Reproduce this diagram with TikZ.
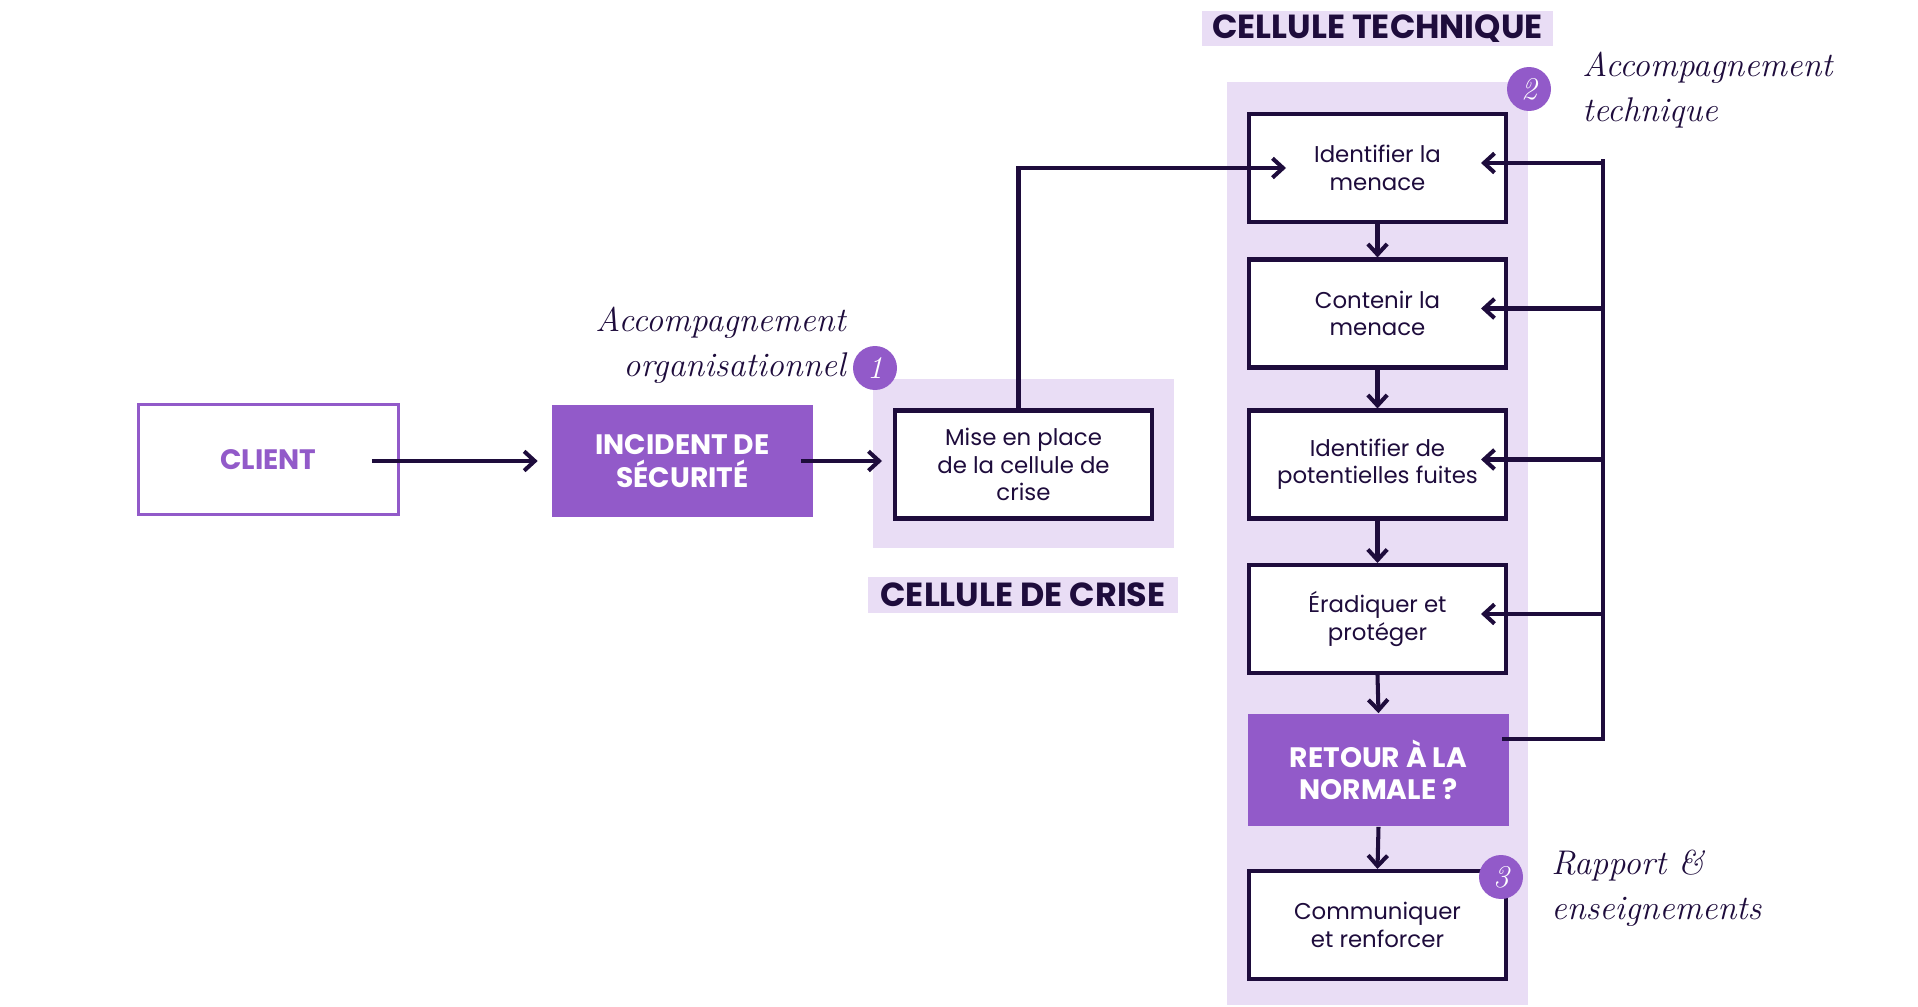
\documentclass[tikz,border=0pt]{standalone}
\usepackage{fontspec}
\setmainfont{Poppins}
\newfontfamily\handfont{Latin Modern Roman}
\usetikzlibrary{arrows.meta}
\definecolor{ink}{RGB}{30,12,60}
\definecolor{mauve}{RGB}{146,90,201}
\definecolor{lilas}{RGB}{233,221,245}

\begin{document}
\begin{tikzpicture}[x=0.02cm,y=-0.02cm,
  etape/.style={draw=ink,line width=2.3pt,fill=white,text=ink,minimum width=5.14cm,minimum height=2.16cm,align=center,font=\fontsize{13}{15.6}\selectfont},
  alerte/.style={fill=mauve,text=white,minimum width=5.22cm,minimum height=2.26cm,align=center,font=\fontsize{16}{18.5}\selectfont\bfseries},
  pastille/.style={circle,fill=mauve,text=white,minimum size=0.88cm,inner sep=0pt,font=\handfont\itshape\fontsize{18}{18}\selectfont},
  note/.style={text=ink,inner sep=0pt,font=\handfont\itshape\fontsize{19.5}{25.5}\selectfont},
  titre/.style={fill=lilas,text=ink,minimum height=0.72cm,inner sep=0pt,font=\fontsize{19}{21}\selectfont\bfseries},
  fleche/.style={draw=ink,line width=2.3pt,-{Straight Barb[length=6pt,width=11pt]}},
  trait/.style={draw=ink,line width=2.3pt}]
\useasboundingbox (0,0) rectangle (1918,1007);
\fill[white] (0,0) rectangle (1918,1007);
\fill[lilas] (873,379) rectangle (1174,548);
\fill[lilas] (1227,82) rectangle (1528,1005);
\node[titre,minimum width=6.2cm] (crisetitre) at (1023,595) {CELLULE DE CRISE};
\node[titre,minimum width=7.02cm] (techtitre) at (1377.5,28.5) {CELLULE TECHNIQUE};
\node[draw=mauve,line width=1.5pt,minimum width=5.2cm,minimum height=2.2cm,text=mauve,font=\fontsize{16}{18.5}\selectfont\bfseries] (client) at (268.5,459.5) {CLIENT};
\node[alerte] (incident) at (682.5,461) {INCIDENT DE\\SÉCURITÉ};
\node[etape] (mise) at (1023.5,464.5) {Mise en place\\de la cellule de\\crise};
\node[etape] (ident) at (1377.5,168) {Identifier la\\menace};
\node[etape] (contenir) at (1377.5,313.5) {Contenir la\\menace};
\node[etape] (fuites) at (1377.5,464.5) {Identifier de\\potentielles fuites};
\node[etape] (eradiquer) at (1377.5,619) {Éradiquer et\\protéger};
\node[alerte] (retour) at (1378.5,770) {RETOUR À LA\\NORMALE ?};
\node[etape] (communiquer) at (1377.5,925) {Communiquer\\et renforcer};
\node[pastille] (un) at (875,368) {1};
\node[pastille] (deux) at (1529,89) {2};
\node[pastille] (trois) at (1501,877) {3};
\node[note,align=right,anchor=east] (orga) at (846,345) {Accompagnement\\organisationnel};
\node[note,align=left,anchor=west] (techn) at (1582,90) {Accompagnement\\technique};
\node[note,align=left,anchor=west] (rapport) at (1551,888) {Rapport \&\\enseignements};
\draw[fleche] ([xshift=-0.56cm]client.east |- incident.east) -- ([xshift=-0.28cm]incident.west);
\draw[fleche] ([xshift=-0.24cm]incident.east) -- ([xshift=-0.22cm]mise.west |- incident.east);
\draw[fleche] ([xshift=-0.1cm]mise.north) |- ([xshift=0.78cm]ident.west);
\draw[fleche] (ident.south) -- (contenir.north);
\draw[fleche] (contenir.south) -- (fuites.north);
\draw[fleche] (fuites.south) -- (eradiquer.north);
\draw[fleche] (eradiquer.south) -- (retour.north);
\draw[fleche] (retour.south) -- (communiquer.north);
\draw[trait] ([xshift=-0.14cm,yshift=0.62cm]retour.east) -| ([xshift=1.9cm,yshift=0.18cm]ident.east);
\foreach \n in {ident,contenir,fuites,eradiquer}
  \draw[fleche] ([yshift=0.1cm]\n.east) ++(1.9cm,0) -- ([xshift=-0.54cm,yshift=0.1cm]\n.east);
\end{tikzpicture}
\end{document}
